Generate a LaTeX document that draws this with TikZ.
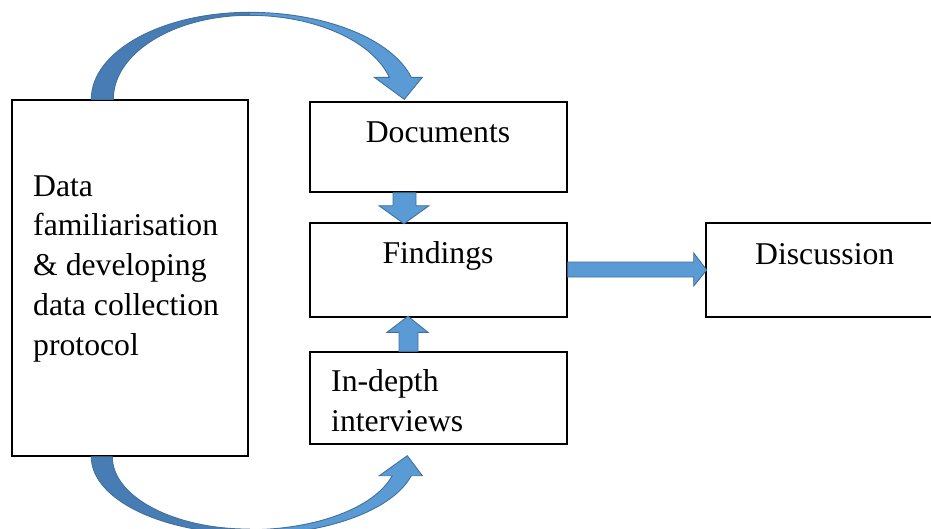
\documentclass[tikz,border=0pt]{standalone}
\usepackage{fontspec}
\setmainfont{Liberation Serif}
\begin{document}
\begin{tikzpicture}[x=1pt,y=-1pt,
  box/.style={draw=black,line width=1.4pt,fill=white,inner sep=0pt},
  lbl/.style={inner sep=0pt,font=\fontsize{31.7}{39.7}\selectfont},
  blockarrow/.style={fill=arrowfill,draw=arrowedge,line width=0.9pt,line join=miter},
  backarrow/.style={fill=arrowdark,draw=arrowedge,line width=0.9pt}]
\definecolor{arrowfill}{RGB}{91,155,213}
\definecolor{arrowdark}{RGB}{72,124,180}
\definecolor{arrowedge}{RGB}{65,113,156}
\useasboundingbox (0,0) rectangle (931,528);
\clip (0,0) rectangle (931,528);
\fill[white] (0,0) rectangle (931,528);

% boxes
\node[box,minimum width=236pt,minimum height=356pt] (prep) at (130,278) {};
\node[box,minimum width=257pt,minimum height=90pt] (docs) at (438.5,147) {};
\node[box,minimum width=257pt,minimum height=94pt] (find) at (438.5,270) {};
\node[box,minimum width=257pt,minimum height=92pt] (intv) at (438.5,398) {};
\node[box,minimum width=236pt,minimum height=94pt] (disc) at (824,270) {};

% texts (base anchor of a multi-line node = baseline of its last line)
\node[lbl,anchor=base west,align=left] (preptext) at (33,355) {Data\\familiarisation\\\& developing\\data collection\\protocol};
\node[lbl,anchor=base] (docstext) at (438,142) {Documents};
\node[lbl,anchor=base] (findtext) at (438,263) {Findings};
\node[lbl,anchor=base west] (disctext) at (755,264) {Discussion};
\node[lbl,anchor=base west,align=left] (intvtext) at (331,431) {In-depth\\interviews};

% top curved arrow (prep -> docs)
\begin{scope}[shift={(prep.north west)}]
  \coordinate (tc) at (238,0);
  \path[backarrow] (80,0) arc[start angle=180,end angle=270,x radius=158,y radius=87]
     -- (238,-84) arc[start angle=270,end angle=180,x radius=136,y radius=84] -- cycle;
\end{scope}
\begin{scope}[shift={(tc)}]
  \path[blockarrow] (0,-87) arc[start angle=270,end angle=345.35,x radius=167.4,y radius=87]
     -- (173,-22) -- (155,0) -- (125,-22) -- (140,-22)
     arc[start angle=344.82,end angle=270,x radius=145.1,y radius=84] -- cycle;
\end{scope}

% bottom curved arrow (prep -> intv)
\begin{scope}[shift={(prep.south west)}]
  \coordinate (bc) at (238,0);
  \path[backarrow] (80,0) arc[start angle=180,end angle=90,x radius=158,y radius=77]
     -- (238,72.4) arc[start angle=90,end angle=180,x radius=137,y radius=72.4] -- cycle;
\end{scope}
\begin{scope}[shift={(bc)}]
  \path[blockarrow] (0,73) arc[start angle=90,end angle=15.09,x radius=148,y radius=73]
     -- (130,19) -- (158,-1) -- (173,19) -- (162,19)
     arc[start angle=14.1,end angle=90,x radius=167,y radius=78] -- cycle;
\end{scope}

% docs -> findings
\begin{scope}[shift={(docs.south)}]
  \path[blockarrow] (-45.5,0) -- (-22.5,0) -- (-22.5,13) -- (-9.5,13) -- (-34.5,31)
     -- (-59.5,13) -- (-45.5,13) -- cycle;
\end{scope}
% interviews -> findings
\begin{scope}[shift={(intv.north)}]
  \path[blockarrow] (-39.5,0) -- (-20.5,0) -- (-20.5,-19) -- (-10.5,-19) -- (-30.5,-35)
     -- (-51.5,-19) -- (-39.5,-19) -- cycle;
\end{scope}
% findings -> discussion
\begin{scope}[shift={(find.east)}]
  \path[blockarrow] (0,-8) -- (126,-8) -- (126,-17) -- (139,0) -- (126,16)
     -- (126,7) -- (0,7) -- cycle;
\end{scope}
\end{tikzpicture}
\end{document}
